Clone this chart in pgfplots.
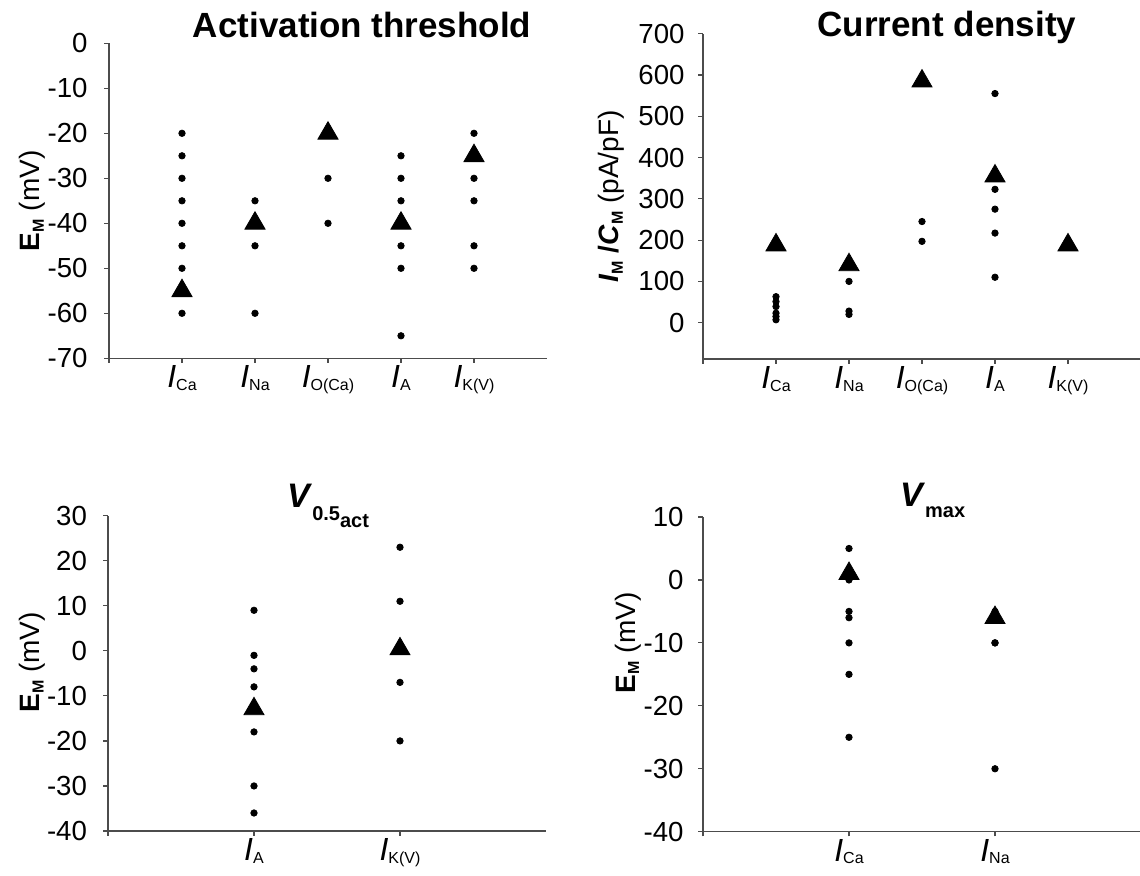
\documentclass[border=0pt]{standalone}
\usepackage{pgfplots}
\pgfplotsset{compat=1.18}
\usepackage{fontspec}
\setmainfont{Liberation Sans}

\newcommand{\cur}[1]{{\fontsize{16}{16}\selectfont\itshape I}\raisebox{-1.2pt}{\fontsize{8}{8}\selectfont #1}}
\newcommand{\emlabel}{\textbf{E}\raisebox{-2pt}{\fontsize{8}{8}\selectfont\bfseries M} (mV)}

\pgfplotsset{
  panel/.style={
    scale only axis, width=219pt,
    axis x line=bottom, axis y line=left,
    axis line style={-, line width=0.6pt, black!70},
    tick style={line width=0.6pt, black!70},
    tick align=outside, major tick length=2.3pt,
    xmin=0, xmax=6, clip=false,
    /pgf/number format/assume math mode=true,
    yticklabel={\fontsize{13.8}{16}\selectfont\pgfmathprintnumber{\tick}},
    xticklabel style={yshift=2pt},
    ylabel style={anchor=base, font=\fontsize{14}{16}\selectfont},
    title style={font=\fontsize{17.5}{20}\selectfont\bfseries, anchor=base, yshift=-6pt},
  },
  dots/.style={only marks, mark=*, mark size=1.6pt, black},
  tri/.style={only marks, mark=triangle*, mark size=5.8pt, black},
}

\begin{document}
\begin{tikzpicture}
\useasboundingbox (0,0) rectangle (570pt,-438pt);

% Activation threshold
\begin{axis}[panel, at={(54.5pt,-179.15pt)}, height=157.5pt,
  ymin=-70, ymax=0, ytick={-70,-60,...,0}, yticklabel style={xshift=-4.9pt},
  xtick={0,1,2,3,4,5}, xticklabels={,\cur{Ca},\cur{Na},\cur{O(Ca)},\cur{A},\cur{K(V)}},
  ylabel={\emlabel}, ylabel style={at={(axis description cs:-0.158,0.5)}},
  title={Activation threshold}, title style={at={(axis description cs:0.578,1.017)}}]
\addplot[dots] coordinates {
  (1,-20) (1,-25) (1,-30) (1,-35) (1,-40) (1,-45) (1,-50) (1,-60)
  (2,-35) (2,-45) (2,-60)
  (3,-30) (3,-40)
  (4,-25) (4,-30) (4,-35) (4,-45) (4,-50) (4,-65)
  (5,-20) (5,-30) (5,-35) (5,-45) (5,-50)};
\addplot[tri] coordinates {(1,-55) (2,-40) (3,-20) (4,-40) (5,-25)};
\end{axis}

% Current density
\begin{axis}[panel, at={(351.5pt,-179.5pt)}, height=162.65pt,
  ymin=-88, ymax=700, ytick={0,100,...,700}, yticklabel style={xshift=-3.4pt},
  xtick={0,1,2,3,4,5}, xticklabels={,\cur{Ca},\cur{Na},\cur{O(Ca)},\cur{A},\cur{K(V)}},
  ylabel={\textbf{\textit{I}}\raisebox{-2pt}{\fontsize{8}{8}\selectfont\bfseries M} \textbf{/\textit{C}}\raisebox{-2pt}{\fontsize{8}{8}\selectfont\bfseries M} (pA/pF)},
  ylabel style={at={(axis description cs:-0.192,0.5)}},
  title={Current density}, title style={at={(axis description cs:0.557,0.99)}}]
\addplot[dots] coordinates {
  (1,63) (1,51) (1,39) (1,23) (1,15) (1,7)
  (2,100) (2,28) (2,20)
  (3,245) (3,197)
  (4,555) (4,323) (4,275) (4,217) (4,110)};
\addplot[tri] coordinates {(1,188) (2,140) (3,585) (4,355) (5,188)};
\end{axis}

% V0.5act
\begin{axis}[panel, at={(54pt,-415.5pt)}, height=157.65pt,
  ymin=-40, ymax=30, ytick={-40,-30,...,30}, yticklabel style={xshift=-4.7pt},
  xtick={0,2,4}, xticklabels={,\cur{A},\cur{K(V)}},
  ylabel={\emlabel}, ylabel style={at={(axis description cs:-0.156,0.535)}},
  title={\fontsize{17}{20}\selectfont\textit{V}\raisebox{-6.5pt}{\fontsize{10}{10}\selectfont 0.5\raisebox{-3.5pt}{act}}},
  title style={at={(axis description cs:0.393,1.0276)}, anchor=base west}]
\addplot[dots] coordinates {
  (2,9) (2,-1) (2,-4) (2,-8) (2,-18) (2,-30) (2,-36)
  (4,23) (4,11) (4,-7) (4,-20)};
\addplot[tri] coordinates {(2,-12.9) (4,0.4)};
\end{axis}

% Vmax
\begin{axis}[panel, at={(351.5pt,-415.85pt)}, height=157.35pt,
  ymin=-40, ymax=10, ytick={-40,-30,...,10}, yticklabel style={xshift=-3.9pt},
  xtick={0,2,4}, xticklabels={,\cur{Ca},\cur{Na}},
  ylabel={\emlabel}, ylabel style={at={(axis description cs:-0.155,0.6)}},
  title={\fontsize{17}{20}\selectfont\textit{V}\raisebox{-5.5pt}{\fontsize{10}{10}\selectfont max}},
  title style={at={(axis description cs:0.434,1.032)}, anchor=base west}]
\addplot[dots] coordinates {
  (2,5) (2,0) (2,-5) (2,-6) (2,-10) (2,-15) (2,-25)
  (4,-5) (4,-10) (4,-10) (4,-30)};
\addplot[tri] coordinates {(2,1) (4,-6)};
\end{axis}
\end{tikzpicture}
\end{document}
